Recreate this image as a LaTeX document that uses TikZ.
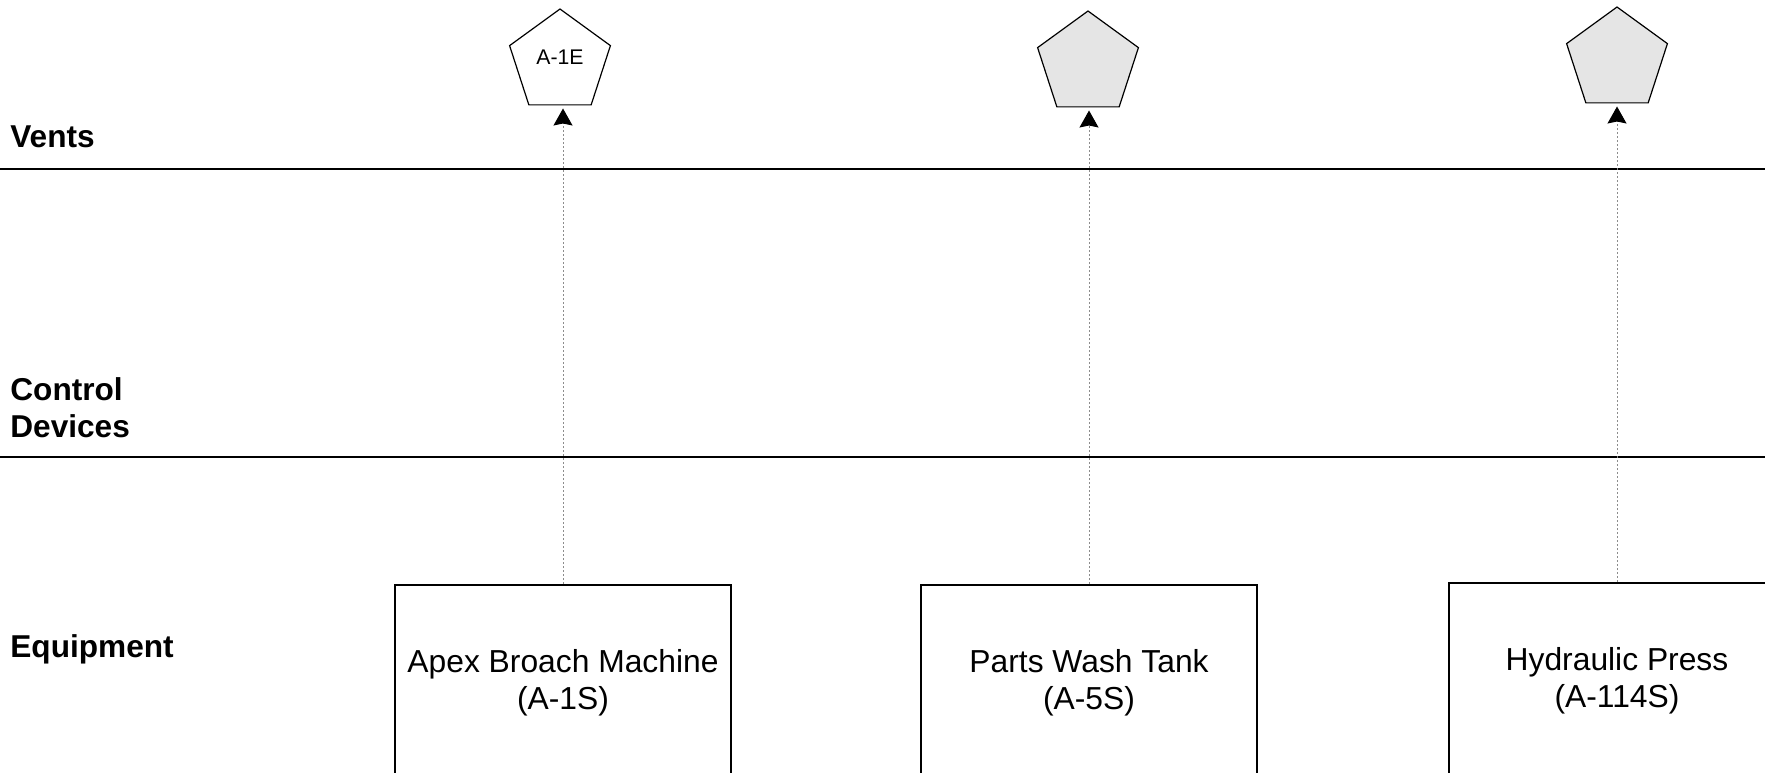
\documentclass[tikz,border=0pt]{standalone}
\usepackage{fontspec}
\setmainfont{Liberation Sans}
\usetikzlibrary{shapes.geometric,arrows.meta}
\begin{document}
\begin{tikzpicture}[x=0.5pt,y=-0.5pt,
  lane/.style={font=\fontsize{15.8}{18.5}\selectfont\bfseries, inner sep=0, align=left},
  divider/.style={line width=1.25pt},
  vent/.style={regular polygon, regular polygon sides=5, minimum size=53pt,
    inner sep=0, draw=black, line width=0.6pt},
  ventgray/.style={vent, fill=black!10},
  ventlabel/.style={font=\fontsize{10.6}{12}\selectfont, inner sep=0},
  unit/.style={draw, line width=1pt, minimum width=168pt, minimum height=97.5pt,
    align=center, font=\fontsize{15.9}{18.5}\selectfont, inner sep=0},
  flow/.style={draw=black!45, line width=0.5pt, dash pattern=on 1pt off 1pt,
    -{Stealth[length=8.5pt,width=9.5pt,inset=1pt,black]}, shorten >=1.5pt}
]
\useasboundingbox (0,0) rectangle (1765,772);

% lane dividers
\draw[divider] (0,169) -- (1765,169);
\draw[divider] (0,457) -- (1765,457);

% lane titles
\node[lane, anchor=base west] (lvents) at (10,147) {Vents};
\node[lane, anchor=west] (lctrl) at (10,408) {Control\\Devices};
\node[lane, anchor=base west] (lequip) at (10,657) {Equipment};

% vents
\node[vent] (v1) at (560,62) {};
\node[ventlabel] (v1text) at (560,57) {A-1E};
\node[ventgray] (v2) at (1088,64) {};
\node[ventgray] (v3) at (1617,60) {};

% equipment
\node[unit] (e1) at (563,682.5) {Apex Broach Machine\\(A-1S)};
\node[unit] (e2) at (1089,682.5) {Parts Wash Tank\\(A-5S)};
\node[unit] (e3) at (1617,680.5) {Hydraulic Press\\(A-114S)};

% emission paths
\draw[flow] (e1.north) -- (e1.north |- v1.south);
\draw[flow] (e2.north) -- (e2.north |- v2.south);
\draw[flow] (e3.north) -- (e3.north |- v3.south);
\end{tikzpicture}
\end{document}
